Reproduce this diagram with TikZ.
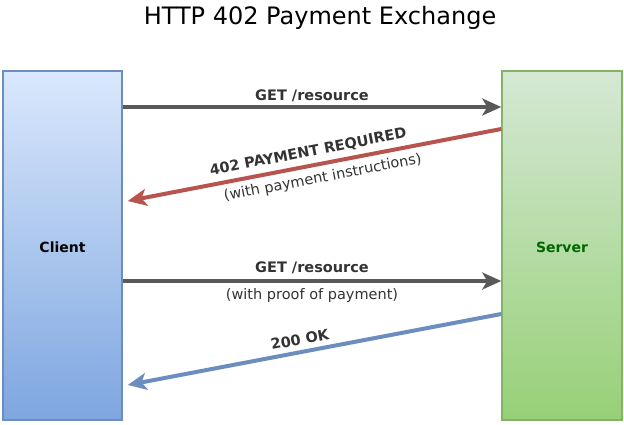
\documentclass[tikz,border=0pt]{standalone}
\usepackage{fontspec}
\setmainfont{DejaVu Sans}
\usepackage{xcolor}
\usepackage{tikz}
\usetikzlibrary{arrows.meta}

\definecolor{clientTop}{HTML}{DAE8FC}
\definecolor{clientBot}{HTML}{7EA6E0}
\definecolor{clientLine}{HTML}{6C8EBF}
\definecolor{serverTop}{HTML}{D5E8D4}
\definecolor{serverBot}{HTML}{97D077}
\definecolor{serverLine}{HTML}{82B366}
\definecolor{serverText}{HTML}{006600}
\definecolor{reqGray}{HTML}{595959}
\definecolor{payRed}{HTML}{B85450}
\definecolor{okBlue}{HTML}{6C8EBF}
\definecolor{labelGray}{HTML}{333333}

\begin{document}
\begin{tikzpicture}[x=1pt,y=1pt]

    \useasboundingbox (0,0) rectangle (624,424);

    \node[] (title) at (320,406) {\fontsize{24}{28}\selectfont HTTP 402 Payment Exchange};

    \node[rectangle,
          draw = clientLine,
          line width = 1.5pt,
          top color = clientTop,
          bottom color = clientBot,
          minimum width = 119pt,
          minimum height = 349pt
          ] (client) at (62.5,178.5) {};
    \node[] at ([yshift=-2pt]client.center) {\fontsize{14}{16}\selectfont\bfseries Client};

    \node[rectangle,
          draw = serverLine,
          line width = 1.5pt,
          top color = serverTop,
          bottom color = serverBot,
          minimum width = 120pt,
          minimum height = 349pt
          ] (server) at (562,178.5) {};
    \node[text = serverText] at ([yshift=-2pt]server.center) {\fontsize{14}{16}\selectfont\bfseries Server};


    \path[every edge/.style={draw, line width = 4pt, -{Stealth[length=19pt,width=17pt,inset=5pt]}},
          every node/.style={text = labelGray, font=\fontsize{14.5}{16}\selectfont}]
    %request 1
    ([yshift=138.5pt]client.east) edge [draw = reqGray]
        node [above=0pt] {\bfseries GET /resource} ([yshift=138.5pt]server.west)
    %payment required
    ([yshift=116.5pt]server.west) edge [draw = payRed]
        node [pos=0.51, sloped, above=2pt] {\bfseries 402 PAYMENT REQUIRED}
        node [pos=0.485, sloped, below=2pt] {(with payment instructions)} ([xshift=5pt,yshift=44.5pt]client.east)
    %request 2
    ([yshift=-35.5pt]client.east) edge [draw = reqGray]
        node [above=2pt] {\bfseries GET /resource}
        node [below=2pt] {(with proof of payment)} ([yshift=-35.5pt]server.west)
    %ok
    ([yshift=-68.5pt]server.west) edge [draw = okBlue]
        node [pos=0.533, sloped, above=2pt] {\bfseries 200 OK} ([xshift=5pt,yshift=-139.5pt]client.east) ;

\end{tikzpicture}
\end{document}
